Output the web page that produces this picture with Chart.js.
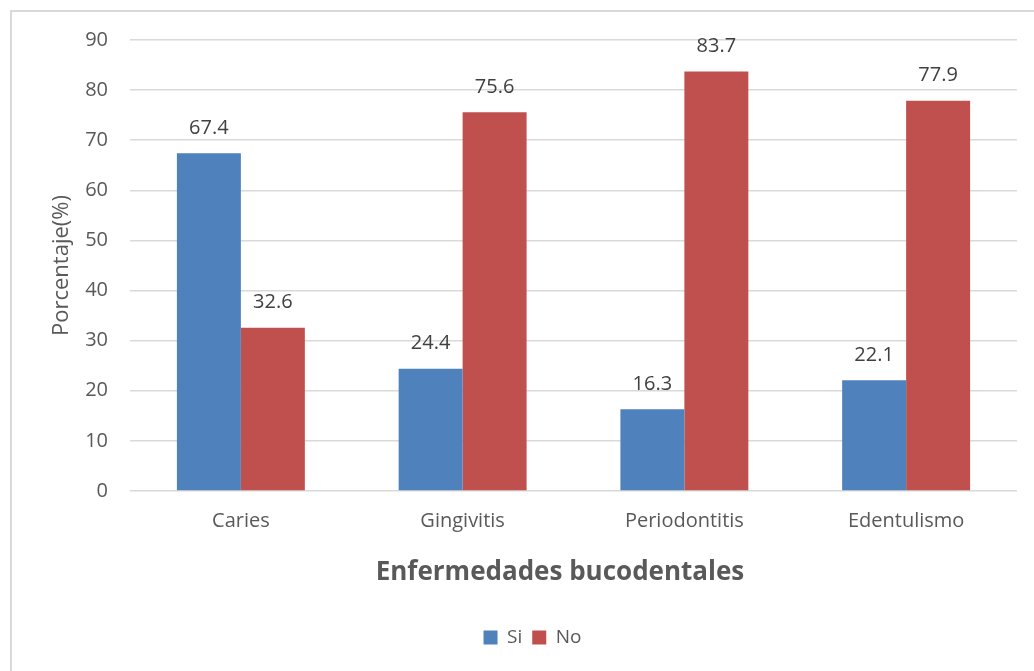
<!DOCTYPE html>
<html>
<head>
<meta charset="utf-8">
<script src="https://cdn.jsdelivr.net/npm/chart.js@4.4.0/dist/chart.umd.min.js"></script>
<style>
  body { margin: 0; background: #fff; }
  #marco { position: absolute; left: 10px; top: 10px; width: 1100px; height: 800px; border: 2px solid #d9d9d9; }
  #caja { position: absolute; left: 0; top: 0; width: 1034px; height: 671px; }
</style>
</head>
<body>
<div id="marco"></div>
<div id="caja"><canvas id="mycanvas"></canvas></div>
<script>
const categorias = ['Caries', 'Gingivitis', 'Periodontitis', 'Edentulismo'];
const valoresSi = [67.4, 24.4, 16.3, 22.1];
const valoresNo = [32.6, 75.6, 83.7, 77.9];
const ticksY = [0, 10, 20, 30, 40, 50, 60, 70, 80, 90];

const fuente = "'Open Sans', sans-serif";

// etiquetas encima de cada barra
const etiquetas = {
  id: 'etiquetas',
  afterDatasetsDraw(chart) {
    const ctx = chart.ctx;
    ctx.save();
    ctx.font = '20px ' + fuente;
    ctx.fillStyle = '#404040';
    ctx.textAlign = 'center';
    ctx.textBaseline = 'middle';
    chart.data.datasets.forEach(function (ds, i) {
      chart.getDatasetMeta(i).data.forEach(function (bar, j) {
        ctx.fillText(ds.data[j].toFixed(1), bar.x, bar.y - 25);
      });
    });
    ctx.restore();
  }
};

const data = {
  labels: categorias,
  datasets: [
    { label: 'Si', data: valoresSi, backgroundColor: '#4F81BD', borderWidth: 0 },
    { label: 'No', data: valoresNo, backgroundColor: '#C0504D', borderWidth: 0 }
  ]
};

const config = {
  type: 'bar',
  data: data,
  plugins: [etiquetas],
  options: {
    responsive: false,
    animation: false,
    devicePixelRatio: 1,
    layout: { padding: { top: 40, right: 17, bottom: 14, left: 48 } },
    datasets: { bar: { barPercentage: 1, categoryPercentage: 0.577 } },
    plugins: {
      legend: {
        position: 'bottom',
        labels: {
          boxWidth: 14, boxHeight: 14, padding: 10,
          color: '#595959',
          font: { family: fuente, size: 19 }
        }
      },
      tooltip: { enabled: false }
    },
    scales: {
      x: {
        grid: { display: false, drawTicks: false },
        border: { display: false },
        ticks: { color: '#595959', padding: 18, font: { family: fuente, size: 20 } },
        title: {
          display: true, text: 'Enfermedades bucodentales\u00a0\u00a0\u00a0\u00a0', color: '#595959',
          font: { family: fuente, size: 26, weight: 'bold' },
          padding: { top: 0, bottom: 30 }
        },
        afterFit: function (s) { s.height = 127; }
      },
      y: {
        min: 0, max: 90,
        afterBuildTicks: function (s) { s.ticks = ticksY.map(function (v) { return { value: v }; }); },
        grid: { color: '#d9d9d9', lineWidth: 1.5, drawTicks: false },
        border: { display: false },
        ticks: { color: '#595959', padding: 22, font: { family: fuente, size: 20 } },
        title: {
          display: true, text: 'Porcentaje(%)', color: '#595959',
          font: { family: fuente, size: 22 },
          padding: { top: 1, bottom: 0 }
        },
        afterFit: function (s) { s.width = 82; }
      }
    }
  }
};

const canvas = document.getElementById('mycanvas');
canvas.width = 1034;
canvas.height = 671;
var myChart = new Chart(canvas, config);
</script>
</body>
</html>
